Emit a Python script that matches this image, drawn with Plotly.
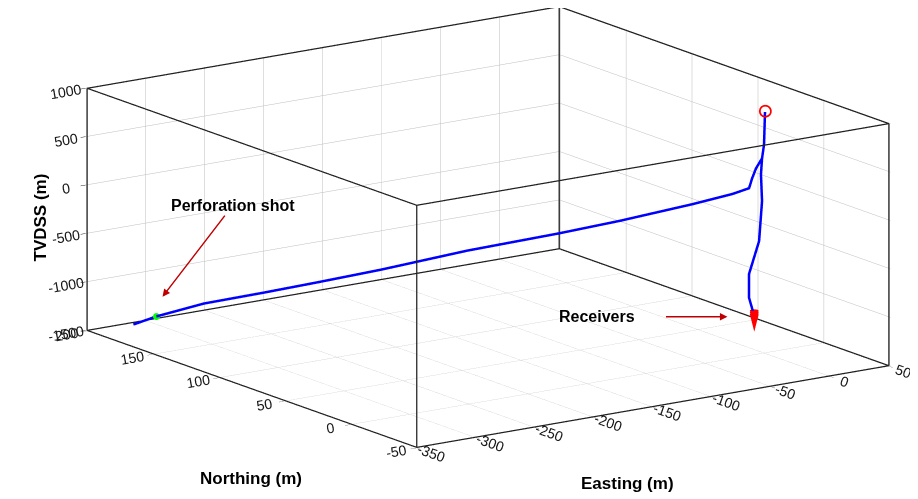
import plotly.graph_objects as go

# ---- data (metres) ----
easting_ticks = [-350, -300, -250, -200, -150, -100, -50, 0, 50]
northing_ticks = [-50, 0, 50, 100, 150, 200]
tvdss_ticks = [-1500, -1000, -500, 0, 500, 1000]

# monitoring well (vertical, with receivers at the bottom)
mon_e = [47.8, 47.0, 45.3, 44.4, 45.3, 42.8, 34.3, 34.3, 38.7, 39.0]
mon_n = [42, 42, 42, 42, 42, 42, 42, 42, 42, 42]
mon_z = [680, 347, 207, 43, -236, -642, -964, -1211, -1405, -1460]

# treatment well (vertical section, then long deviated section to the toe)
trt_e = [47.8, 47.0, 45.3, 40.2, 36.9, 34.3, 24.5, 1.5, -40.5, -75.2, -128.9,
         -179.1, -213.7, -246.5, -281.1, -308.7, -322.0]
trt_n = [42, 42, 42, 42, 42, 42, 46.1, 55.6, 73.1, 87.5, 109.8,
         130.7, 145.0, 158.6, 173.0, 184.5, 190.0]
trt_z = [680, 347, 207, 114, 18, -79, -138, -240, -408, -532, -707,
         -900, -1019, -1128, -1237, -1368, -1450]

# wellhead
head_e, head_n, head_z = [47.8], [42], [690]

# perforation shot
perf_e, perf_n, perf_z = [-308.7], [184.5], [-1368]

# receivers
rec_e = [38.7, 38.7, 38.7]
rec_n = [42, 42, 42]
rec_z = [-1350, -1370, -1390]

def lab(v):
    return [str(t) for t in v]  # plain hyphen minus

fig = go.Figure()

# box outline built from the axis limits (one trace per edge)
e0, e1 = min(easting_ticks), max(easting_ticks)
n0, n1 = min(northing_ticks), max(northing_ticks)
z0, z1 = min(tvdss_ticks), max(tvdss_ticks)
corners = [(a, b, c) for a in (e0, e1) for b in (n0, n1) for c in (z0, z1)]
for i in range(8):
    for j in range(i + 1, 8):
        p, q = corners[i], corners[j]
        if sum(p[k] != q[k] for k in range(3)) == 1:
            fig.add_trace(go.Scatter3d(x=[p[0], q[0]], y=[p[1], q[1]], z=[p[2], q[2]],
                                       mode="lines",
                                       line=dict(color="#202020", width=2.5),
                                       showlegend=False, hoverinfo="skip"))

fig.add_trace(go.Scatter3d(x=mon_e, y=mon_n, z=mon_z, mode="lines",
                           line=dict(color="#0000FF", width=5), showlegend=False,
                           hoverinfo="skip"))
fig.add_trace(go.Scatter3d(x=trt_e, y=trt_n, z=trt_z, mode="lines",
                           line=dict(color="#0000FF", width=5), showlegend=False,
                           hoverinfo="skip"))
fig.add_trace(go.Scatter3d(x=head_e, y=head_n, z=head_z, mode="markers",
                           marker=dict(symbol="circle-open", size=7, color="#FF0000",
                                       line=dict(color="#FF0000", width=1)),
                           showlegend=False, hoverinfo="skip"))
fig.add_trace(go.Scatter3d(x=perf_e, y=perf_n, z=perf_z, mode="markers",
                           marker=dict(symbol="circle", size=4, color="#00FF00"),
                           showlegend=False, hoverinfo="skip"))
fig.add_trace(go.Cone(x=rec_e, y=rec_n, z=rec_z,
                      u=[0] * len(rec_e), v=[0] * len(rec_e), w=[-1] * len(rec_e),
                      anchor="tail", sizemode="absolute", sizeref=9,
                      cmin=0, cmax=2,
                      colorscale=[[0, "#FF0000"], [1, "#FF0000"]], showscale=False,
                      lighting=dict(ambient=1.0, diffuse=0.0, specular=0.0),
                      hoverinfo="skip"))

tickfont = dict(family="Liberation Sans, Arial, sans-serif", size=13, color="#1a1a1a")
common = dict(showgrid=True, gridcolor="#bdbdbd", gridwidth=1,
              showline=False,
              ticks="outside", ticklen=6, tickcolor="#262626",
              showbackground=False, zeroline=False, showspikes=False,
              tickfont=tickfont, title=dict(text=""))

# tiny padding so the outline on the range limits is not clipped
pe, pn, pz = 0.002 * (e1 - e0), 0.002 * (n1 - n0), 0.002 * (z1 - z0)

K = 2.317
ctr = dict(x=-0.0864, y=0.0234, z=-0.1184)
view = (-0.555, -0.795, 0.248)
annfont = dict(family="Liberation Sans, Arial, sans-serif", size=16, color="black")
scene = dict(
    xaxis=dict(range=[e0 - pe, e1 + pe], tickvals=easting_ticks,
               ticktext=lab(easting_ticks), **common),
    yaxis=dict(range=[n0 - pn, n1 + pn], tickvals=northing_ticks,
               ticktext=lab(northing_ticks), **common),
    zaxis=dict(range=[z0 - pz, z1 + pz], tickvals=tvdss_ticks,
               ticktext=lab(tvdss_ticks), **common),
    aspectmode="manual",
    aspectratio=dict(x=1.0 * K, y=1.0 * K, z=0.434 * K),
    camera=dict(eye=dict(x=ctr["x"] + view[0] * 4, y=ctr["y"] + view[1] * 4,
                         z=ctr["z"] + view[2] * 4),
                up=dict(x=0, y=0, z=1), center=ctr,
                projection=dict(type="orthographic")),
    domain=dict(x=[0.0, 1.0], y=[0.0, 1.0]),
    bgcolor="white",
    annotations=[
        dict(x=-304, y=184, z=-1171, ax=70, ay=-91, text="<b>Perforation shot</b>",
             showarrow=True, arrowcolor="#C00000", arrowwidth=1.5, arrowhead=2,
             font=annfont),
        dict(x=16, y=42, z=-1367, ax=-63, ay=0, text="",
             showarrow=True, arrowcolor="#C00000", arrowwidth=1.5, arrowhead=2),
        dict(x=16, y=42, z=-1367, text="<b>Receivers</b>",
             showarrow=False, xshift=-130, font=annfont),
    ],
)

titlefont = dict(family="Liberation Sans, Arial, sans-serif", size=17, color="black")
fig.update_layout(
    width=918, height=499,
    margin=dict(l=0, r=0, t=0, b=0),
    paper_bgcolor="white",
    scene=scene,
    annotations=[
        dict(text="<b>Easting (m)</b>", x=668 / 918, y=1 - 487 / 499, xref="paper",
             yref="paper", showarrow=False, font=titlefont),
        dict(text="<b>Northing (m)</b>", x=190 / 918, y=1 - 482 / 499, xref="paper",
             yref="paper", showarrow=False, font=titlefont),
        dict(text="<b>TVDSS (m)</b>", x=20 / 918, y=1 - 210 / 499, xref="paper",
             yref="paper", showarrow=False, font=titlefont, textangle=-90),
    ],
)

fig.write_html("out.html", config={"displayModeBar": False})
